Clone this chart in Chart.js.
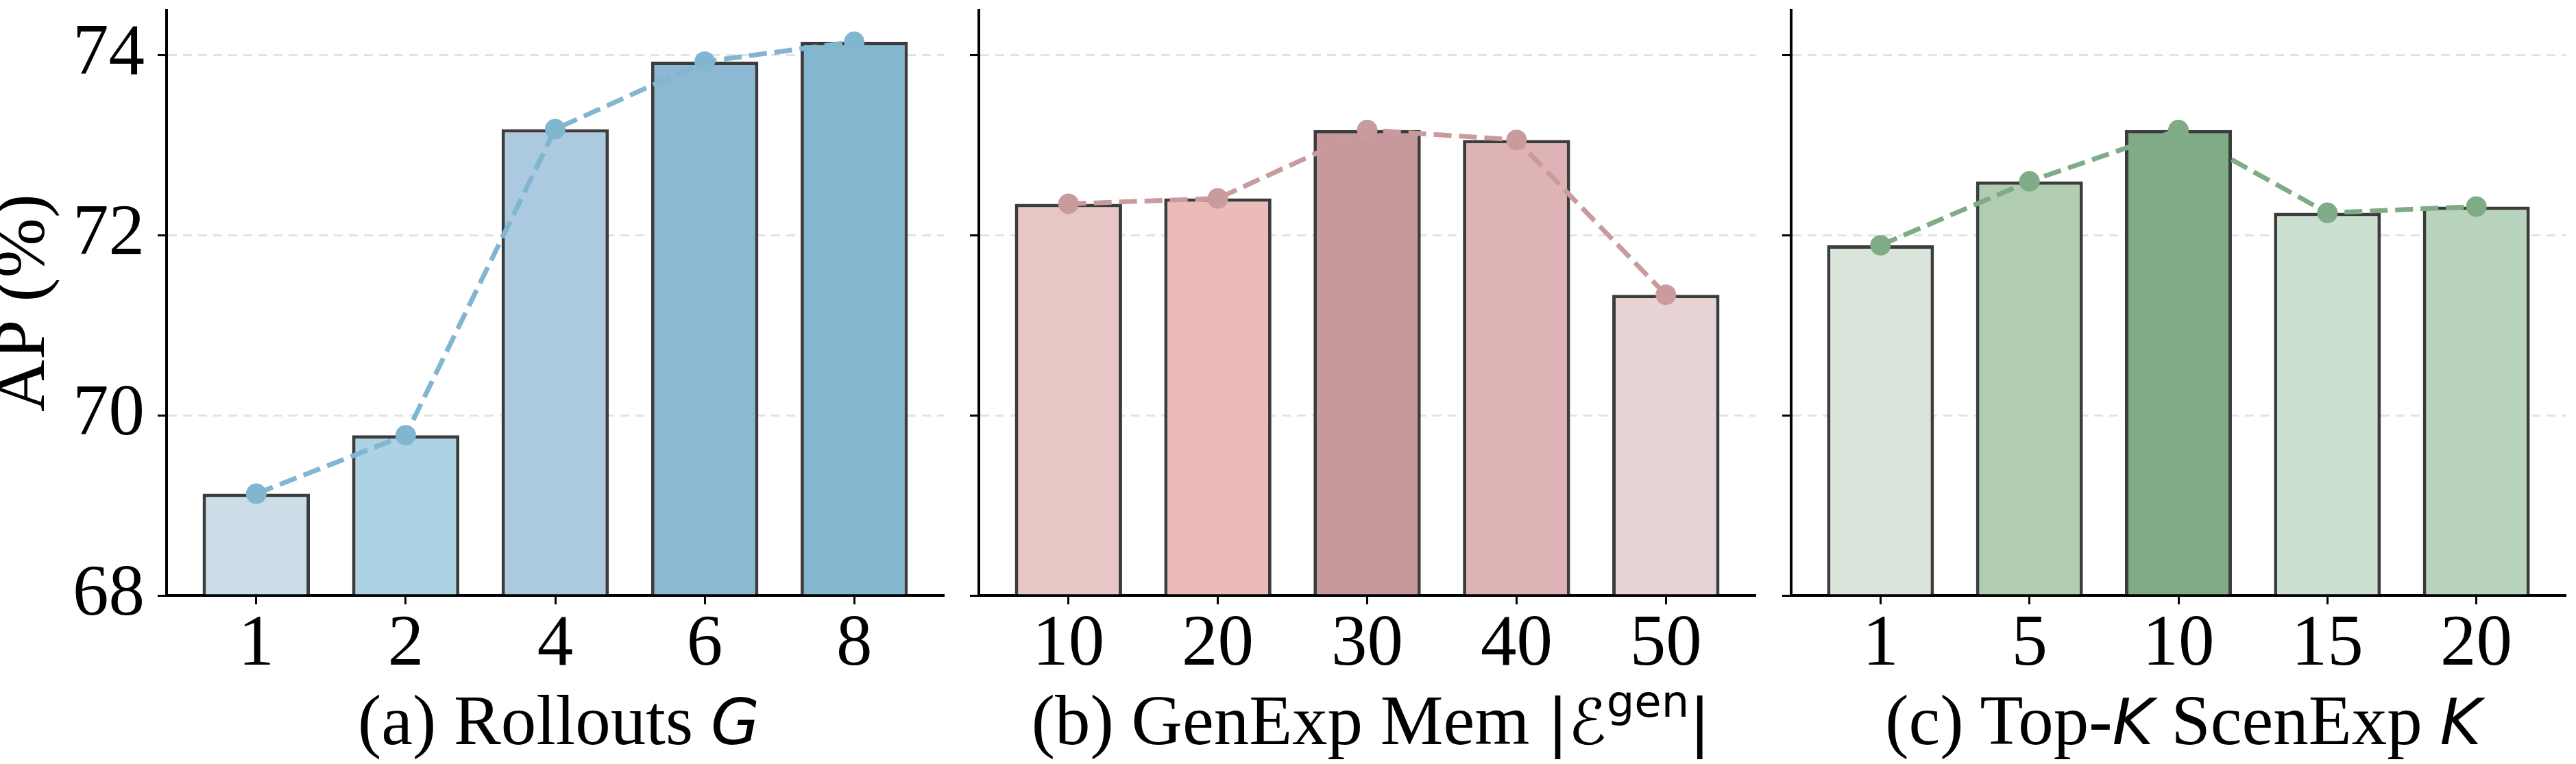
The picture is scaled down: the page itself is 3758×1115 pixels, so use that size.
<!DOCTYPE html>
<html>
<head>
<meta charset="utf-8">
<script src="https://cdn.jsdelivr.net/npm/chart.js@4"></script>
<style>
  body { margin: 0; background: #fff; width: 3758px; height: 1115px; position: relative; overflow: hidden; }
  canvas { position: absolute; top: 0; }
  .cap { position: absolute; top: 1000px; font-family: 'Liberation Serif', serif; font-size: 103px; line-height: 103px; height: 103px; white-space: nowrap; transform: translateX(-50%); color: #000; }
  .m { font-family: 'DejaVu Sans', sans-serif; font-style: italic; font-size: 92px; line-height: 0; }
  .s { font-family: 'DejaVu Sans', sans-serif; font-size: 92px; line-height: 0; }
  .s .up { font-size: 64px; position: relative; top: -40px; line-height: 0; }
</style>
</head>
<body>
<canvas id="chartA" width="1392" height="1115" style="left:0px"></canvas>
<canvas id="chartB" width="1168" height="1115" style="left:1408px"></canvas>
<canvas id="chartC" width="1165" height="1115" style="left:2593px"></canvas>

<div class="cap" style="left:815px">(a) Rollouts <span class="m">G</span></div>
<div class="cap" style="left:2000px">(b) GenExp Mem <span class="s">|<i>ℰ</i><span class="up">gen</span>|</span></div>
<div class="cap" style="left:3185px">(c) Top-<span class="m">K</span> ScenExp <span class="m">K</span></div>

<script>
// data
const rolloutLabels = ['1', '2', '4', '6', '8'];
const rolloutAP = [69.13, 69.78, 73.18, 73.93, 74.15];

const memLabels = ['10', '20', '30', '40', '50'];
const memAP = [72.35, 72.41, 73.17, 73.06, 71.34];

const topkLabels = ['1', '5', '10', '15', '20'];
const topkAP = [71.89, 72.60, 73.17, 72.25, 72.32];

const yTicks = [68, 70, 72, 74];

// colours
const blueBars = ['#ccdde7', '#acd3e4', '#abcadf', '#8cb8d3', '#83b6cf'];
const pinkBars = ['#e7c6c6', '#ebbbba', '#c8999c', '#deb3b5', '#e7d3d3'];
const greenBars = ['#d9e5da', '#b0cdb2', '#80ab87', '#cbe0d1', '#b9d4bc'];

const tickFont = { family: "'Liberation Serif', serif", size: 105, lineHeight: 1 };

function makePanel(id, labels, values, barColors, lineColor, showY, padRight) {
    const pts = values.map((v, i) => ({ x: i, y: v }));
    const ctx = document.getElementById(id).getContext('2d');
    return new Chart(ctx, {
        type: 'bar',
        data: {
            datasets: [
                {
                    type: 'line',
                    data: pts,
                    borderColor: lineColor,
                    backgroundColor: lineColor,
                    pointBackgroundColor: lineColor,
                    borderWidth: 7,
                    borderDash: [26, 11],
                    pointRadius: 15,
                    pointHoverRadius: 15,
                    pointBorderWidth: 0,
                    tension: 0,
                    order: 0
                },
                {
                    type: 'bar',
                    data: pts,
                    backgroundColor: barColors,
                    borderColor: '#3c3c3c',
                    borderWidth: 5,
                    borderSkipped: 'start',
                    base: 68,
                    categoryPercentage: 1,
                    barPercentage: 0.718,
                    order: 1
                }
            ]
        },
        options: {
            responsive: false,
            animation: false,
            layout: { padding: { top: 2, right: padRight, left: 0, bottom: 0 } },
            plugins: { legend: { display: false }, tooltip: { enabled: false } },
            scales: {
                x: {
                    type: 'linear',
                    min: -0.6,
                    max: 4.6,
                    offset: false,
                    afterBuildTicks: s => { s.ticks = labels.map((l, i) => ({ value: i })); },
                    afterFit: s => { s.height = 246; s.paddingLeft = 0; s.paddingRight = 0; },
                    ticks: {
                        callback: v => labels[Math.round(v)],
                        font: tickFont,
                        color: '#000',
                        padding: 8,
                        autoSkip: false,
                        maxRotation: 0
                    },
                    grid: { offset: false, drawOnChartArea: false, tickLength: 13, tickWidth: 3, tickColor: '#000' },
                    border: { color: '#000', width: 4 }
                },
                y: {
                    min: 68,
                    max: 74.5,
                    afterBuildTicks: s => { s.ticks = yTicks.map(v => ({ value: v })); },
                    afterFit: s => { s.width = showY ? 243 : 20; s.paddingTop = 0; s.paddingBottom = 0; },
                    ticks: {
                        display: showY,
                        font: tickFont,
                        color: '#000',
                        padding: 19,
                        callback: v => String(v)
                    },
                    grid: {
                        color: c => (c.tick && c.tick.value === 68) ? 'rgba(0,0,0,0)' : '#e3e3e3',
                        lineWidth: 3,
                        tickLength: 13,
                        tickWidth: 3,
                        tickColor: '#000'
                    },
                    border: { color: '#000', width: 4, dash: [13, 9] },
                    title: {
                        display: showY,
                        text: 'AP (%)',
                        color: '#000',
                        font: { family: "'Liberation Serif', serif", size: 105, lineHeight: 0.7 },
                        padding: 0
                    }
                }
            }
        }
    });
}

makePanel('chartA', rolloutLabels, rolloutAP, blueBars, '#82b5d0', true, 4);
makePanel('chartB', memLabels, memAP, pinkBars, '#c99b9d', false, 4);
makePanel('chartC', topkLabels, topkAP, greenBars, '#80ab87', false, 0);
</script>
</body>
</html>
